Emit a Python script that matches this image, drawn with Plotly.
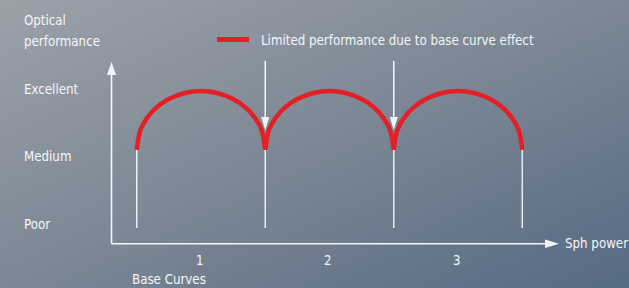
import base64
import plotly.graph_objects as go

# ---------------- data ----------------
levels = ["Poor", "Medium", "Excellent"]          # y categories (1, 2, 3)
level_values = [1, 2, 3]
base_curves = ["1", "2", "3"]                      # x categories
base_centers = [1, 2, 3]
boundaries = [0.5, 1.5, 2.5, 3.5]                  # sph power where base curve changes
# optical performance profile across one base curve (offset from centre, performance)
profile_offset = [-0.5, -0.47, -0.42, -0.35, -0.25, -0.125, 0, 0.125, 0.25, 0.35, 0.42, 0.47, 0.5]
profile_perf = [2.1, 2.4, 2.57, 2.72, 2.85, 2.94, 2.97, 2.94, 2.85, 2.72, 2.57, 2.4, 2.1]
limited_at = [1.5, 2.5]                             # arrows: limited performance
legend_text = "Limited performance due to base curve effect"
y_title = ["Optical", "performance"]
x_title = "Sph power"
x_subtitle = "Base Curves"

# ---------------- geometry helpers ----------------
W, H = 629, 288
XS, X1PX = 128.5, 201.0     # px per unit, px of x=1
YS, Y3PX = 67.5, 89.0       # px per unit, px of y=3
def px2x(px): return 1 + (px - X1PX) / XS
def py2y(py): return 3 - (py - Y3PX) / YS
def dx(px): return px / XS
def dy(py): return py / YS

RED = "#e41f26"
WHITE = "#f4f6f8"
FONT = "DejaVu Sans Condensed, Liberation Sans Narrow, sans-serif"
FS = 13.2

fig = go.Figure()

# red performance arcs
for i, c in enumerate(base_centers):
    fig.add_trace(go.Scatter(
        x=[c + o for o in profile_offset], y=profile_perf,
        mode="lines", line=dict(color=RED, width=4.5, shape="spline", smoothing=1.0),
        hoverinfo="skip", showlegend=False))

shapes = []
# vertical white boundary lines
for b in boundaries:
    shapes.append(dict(type="line", x0=b, x1=b, y0=py2y(228), y1=profile_perf[0],
                       line=dict(color="rgba(255,255,255,0.85)", width=1.5), layer="below"))

# axes
ax_x = px2x(111.5)
ax_y = py2y(243.7)
shapes.append(dict(type="line", x0=ax_x, x1=ax_x, y0=ax_y, y1=py2y(74),
                   line=dict(color=WHITE, width=1.6)))
shapes.append(dict(type="path", fillcolor=WHITE, line=dict(width=0),
                   path=f"M{ax_x-dx(4.5)},{py2y(75)} L{ax_x+dx(4.5)},{py2y(75)} L{ax_x},{py2y(62)} Z"))
shapes.append(dict(type="line", x0=ax_x, x1=px2x(546), y0=ax_y, y1=ax_y,
                   line=dict(color=WHITE, width=1.6)))
shapes.append(dict(type="path", fillcolor=WHITE, line=dict(width=0),
                   path=f"M{px2x(545)},{ax_y+dy(4.3)} L{px2x(545)},{ax_y-dy(4.3)} L{px2x(559)},{ax_y} Z"))

# down arrows
for a in limited_at:
    shapes.append(dict(type="line", x0=a, x1=a, y0=py2y(61), y1=py2y(118),
                       line=dict(color=WHITE, width=1.5)))
    shapes.append(dict(type="path", fillcolor=WHITE, line=dict(width=0),
                       path=f"M{a-dx(4)},{py2y(117)} L{a+dx(4)},{py2y(117)} L{a},{py2y(130)} Z"))

# legend swatch
shapes.append(dict(type="line", x0=px2x(217), x1=px2x(249), y0=py2y(39.5), y1=py2y(39.5),
                   line=dict(color=RED, width=5)))

ann = []
def txt(s, x, y, xanchor="left", yanchor="middle", size=FS):
    ann.append(dict(text=s, x=x, y=y, xref="x", yref="y", showarrow=False,
                    xanchor=xanchor, yanchor=yanchor,
                    font=dict(family=FONT, size=size, color=WHITE)))

txt(legend_text, px2x(259), py2y(40))
txt(y_title[0], px2x(22), py2y(20))
txt(y_title[1], px2x(22), py2y(41))
for lab, v in zip(levels, level_values):
    txt(lab, px2x(22), v)
for lab, c in zip(base_curves, base_centers):
    txt(lab, c - dx(1.5), py2y(260), xanchor="center")
txt(x_subtitle, px2x(169), py2y(279), xanchor="center")
txt(x_title, px2x(563), py2y(243.5))

# gradient background as an SVG image
svg = f'''<svg xmlns="http://www.w3.org/2000/svg" width="{W}" height="{H}">
<defs><linearGradient id="g" x1="0" y1="0" x2="1" y2="1">
<stop offset="0" stop-color="#9ba1a9"/><stop offset="0.45" stop-color="#7f8a96"/>
<stop offset="1" stop-color="#566a83"/></linearGradient></defs>
<rect width="{W}" height="{H}" fill="url(#g)"/></svg>'''
src = "data:image/svg+xml;base64," + base64.b64encode(svg.encode()).decode()

fig.update_layout(
    width=W, height=H, autosize=False,
    margin=dict(l=0, r=0, t=0, b=0),
    paper_bgcolor="#7d8896", plot_bgcolor="rgba(0,0,0,0)",
    xaxis=dict(range=[px2x(0), px2x(W)], visible=False, fixedrange=True),
    yaxis=dict(range=[py2y(H), py2y(0)], visible=False, fixedrange=True),
    shapes=shapes, annotations=ann,
    images=[dict(source=src, xref="paper", yref="paper", x=0, y=1, sizex=1, sizey=1,
                 xanchor="left", yanchor="top", sizing="stretch", layer="below")],
    showlegend=False,
)

fig.write_html("out.html", config={"displayModeBar": False},
               post_script="document.body.style.margin='0';")
